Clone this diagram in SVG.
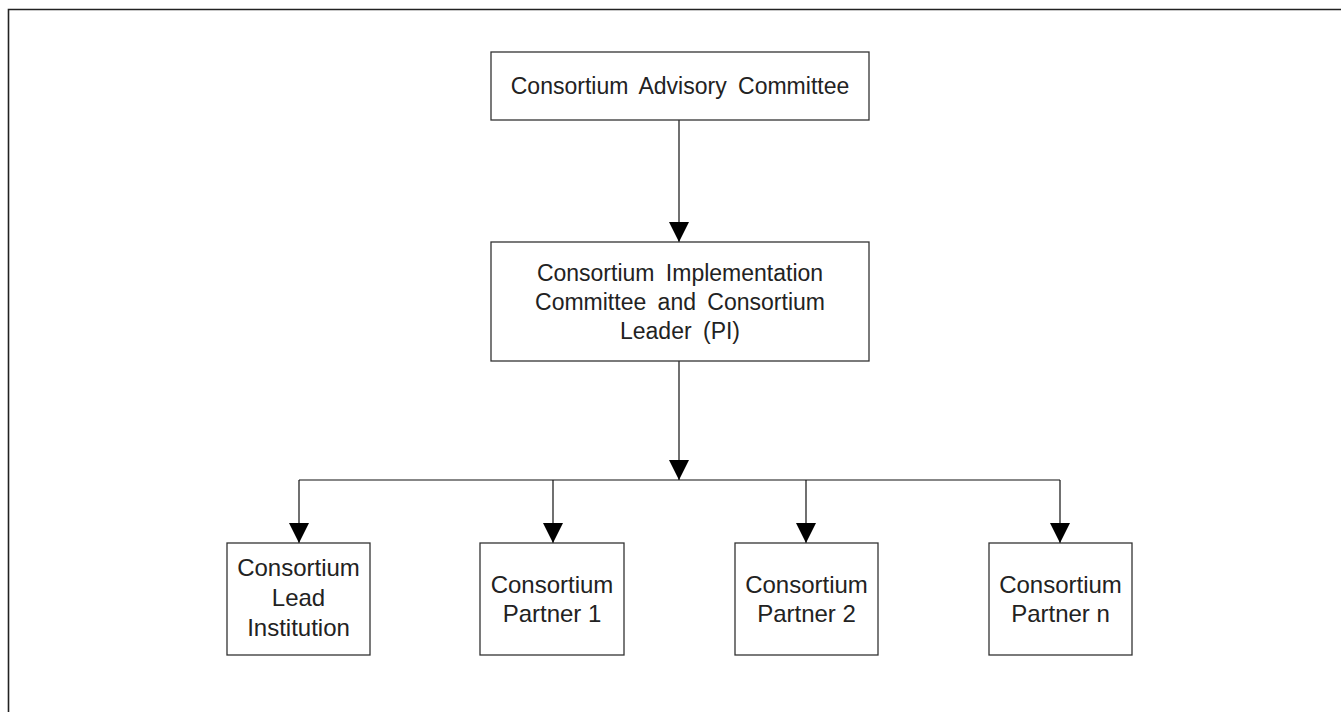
<svg xmlns="http://www.w3.org/2000/svg" width="1341" height="712" viewBox="0 0 1341 712">
<style>
.box{fill:#fff;stroke:#333;stroke-width:1.3}
.t{font-family:"Liberation Sans",Arial,sans-serif;font-size:23px;fill:#222;text-anchor:middle;word-spacing:5px}
.s{font-family:"Liberation Sans",Arial,sans-serif;font-size:24px;fill:#222;text-anchor:middle}
.c{stroke:#111;stroke-width:1.2;fill:none}
</style>
<rect width="1341" height="712" fill="#fff"/>
<path d="M8.5,720 V9.5 H1350" fill="none" stroke="#222" stroke-width="1.6"/>
<g id="connectors">
<line class="c" x1="679" y1="120" x2="679" y2="242"/>
<path d="M679,242 m-10,-20 h20 l-10,20 z" fill="#000"/>
<line class="c" x1="679" y1="361" x2="679" y2="480"/>
<path d="M679,480 m-10,-20 h20 l-10,20 z" fill="#000"/>
<line class="c" x1="299" y1="480" x2="1060" y2="480"/>
<line class="c" x1="299" y1="480" x2="299" y2="543"/>
<path d="M299,543 m-10,-20 h20 l-10,20 z" fill="#000"/>
<line class="c" x1="553" y1="480" x2="553" y2="543"/>
<path d="M553,543 m-10,-20 h20 l-10,20 z" fill="#000"/>
<line class="c" x1="806" y1="480" x2="806" y2="543"/>
<path d="M806,543 m-10,-20 h20 l-10,20 z" fill="#000"/>
<line class="c" x1="1060" y1="480" x2="1060" y2="543"/>
<path d="M1060,543 m-10,-20 h20 l-10,20 z" fill="#000"/>
</g>
<g id="advisory">
<rect class="box" x="491" y="52" width="378" height="68"/>
<text class="t" x="680" y="94">Consortium Advisory Committee</text>
</g>
<g id="implementation">
<rect class="box" x="491" y="242" width="378" height="119"/>
<text class="t" x="680" y="281">Consortium Implementation</text>
<text class="t" x="680" y="310">Committee and Consortium</text>
<text class="t" x="680" y="339">Leader (PI)</text>
</g>
<g id="lead">
<rect class="box" x="227" y="543" width="143" height="112"/>
<text class="s" x="298.5" y="576">Consortium</text>
<text class="s" x="298.5" y="606">Lead</text>
<text class="s" x="298.5" y="636">Institution</text>
</g>
<g id="partner1">
<rect class="box" x="480" y="543" width="144" height="112"/>
<text class="s" x="552" y="593">Consortium</text>
<text class="s" x="552" y="622">Partner 1</text>
</g>
<g id="partner2">
<rect class="box" x="735" y="543" width="143" height="112"/>
<text class="s" x="806.5" y="593">Consortium</text>
<text class="s" x="806.5" y="622">Partner 2</text>
</g>
<g id="partnern">
<rect class="box" x="989" y="543" width="143" height="112"/>
<text class="s" x="1060.5" y="593">Consortium</text>
<text class="s" x="1060.5" y="622">Partner n</text>
</g>
</svg>
